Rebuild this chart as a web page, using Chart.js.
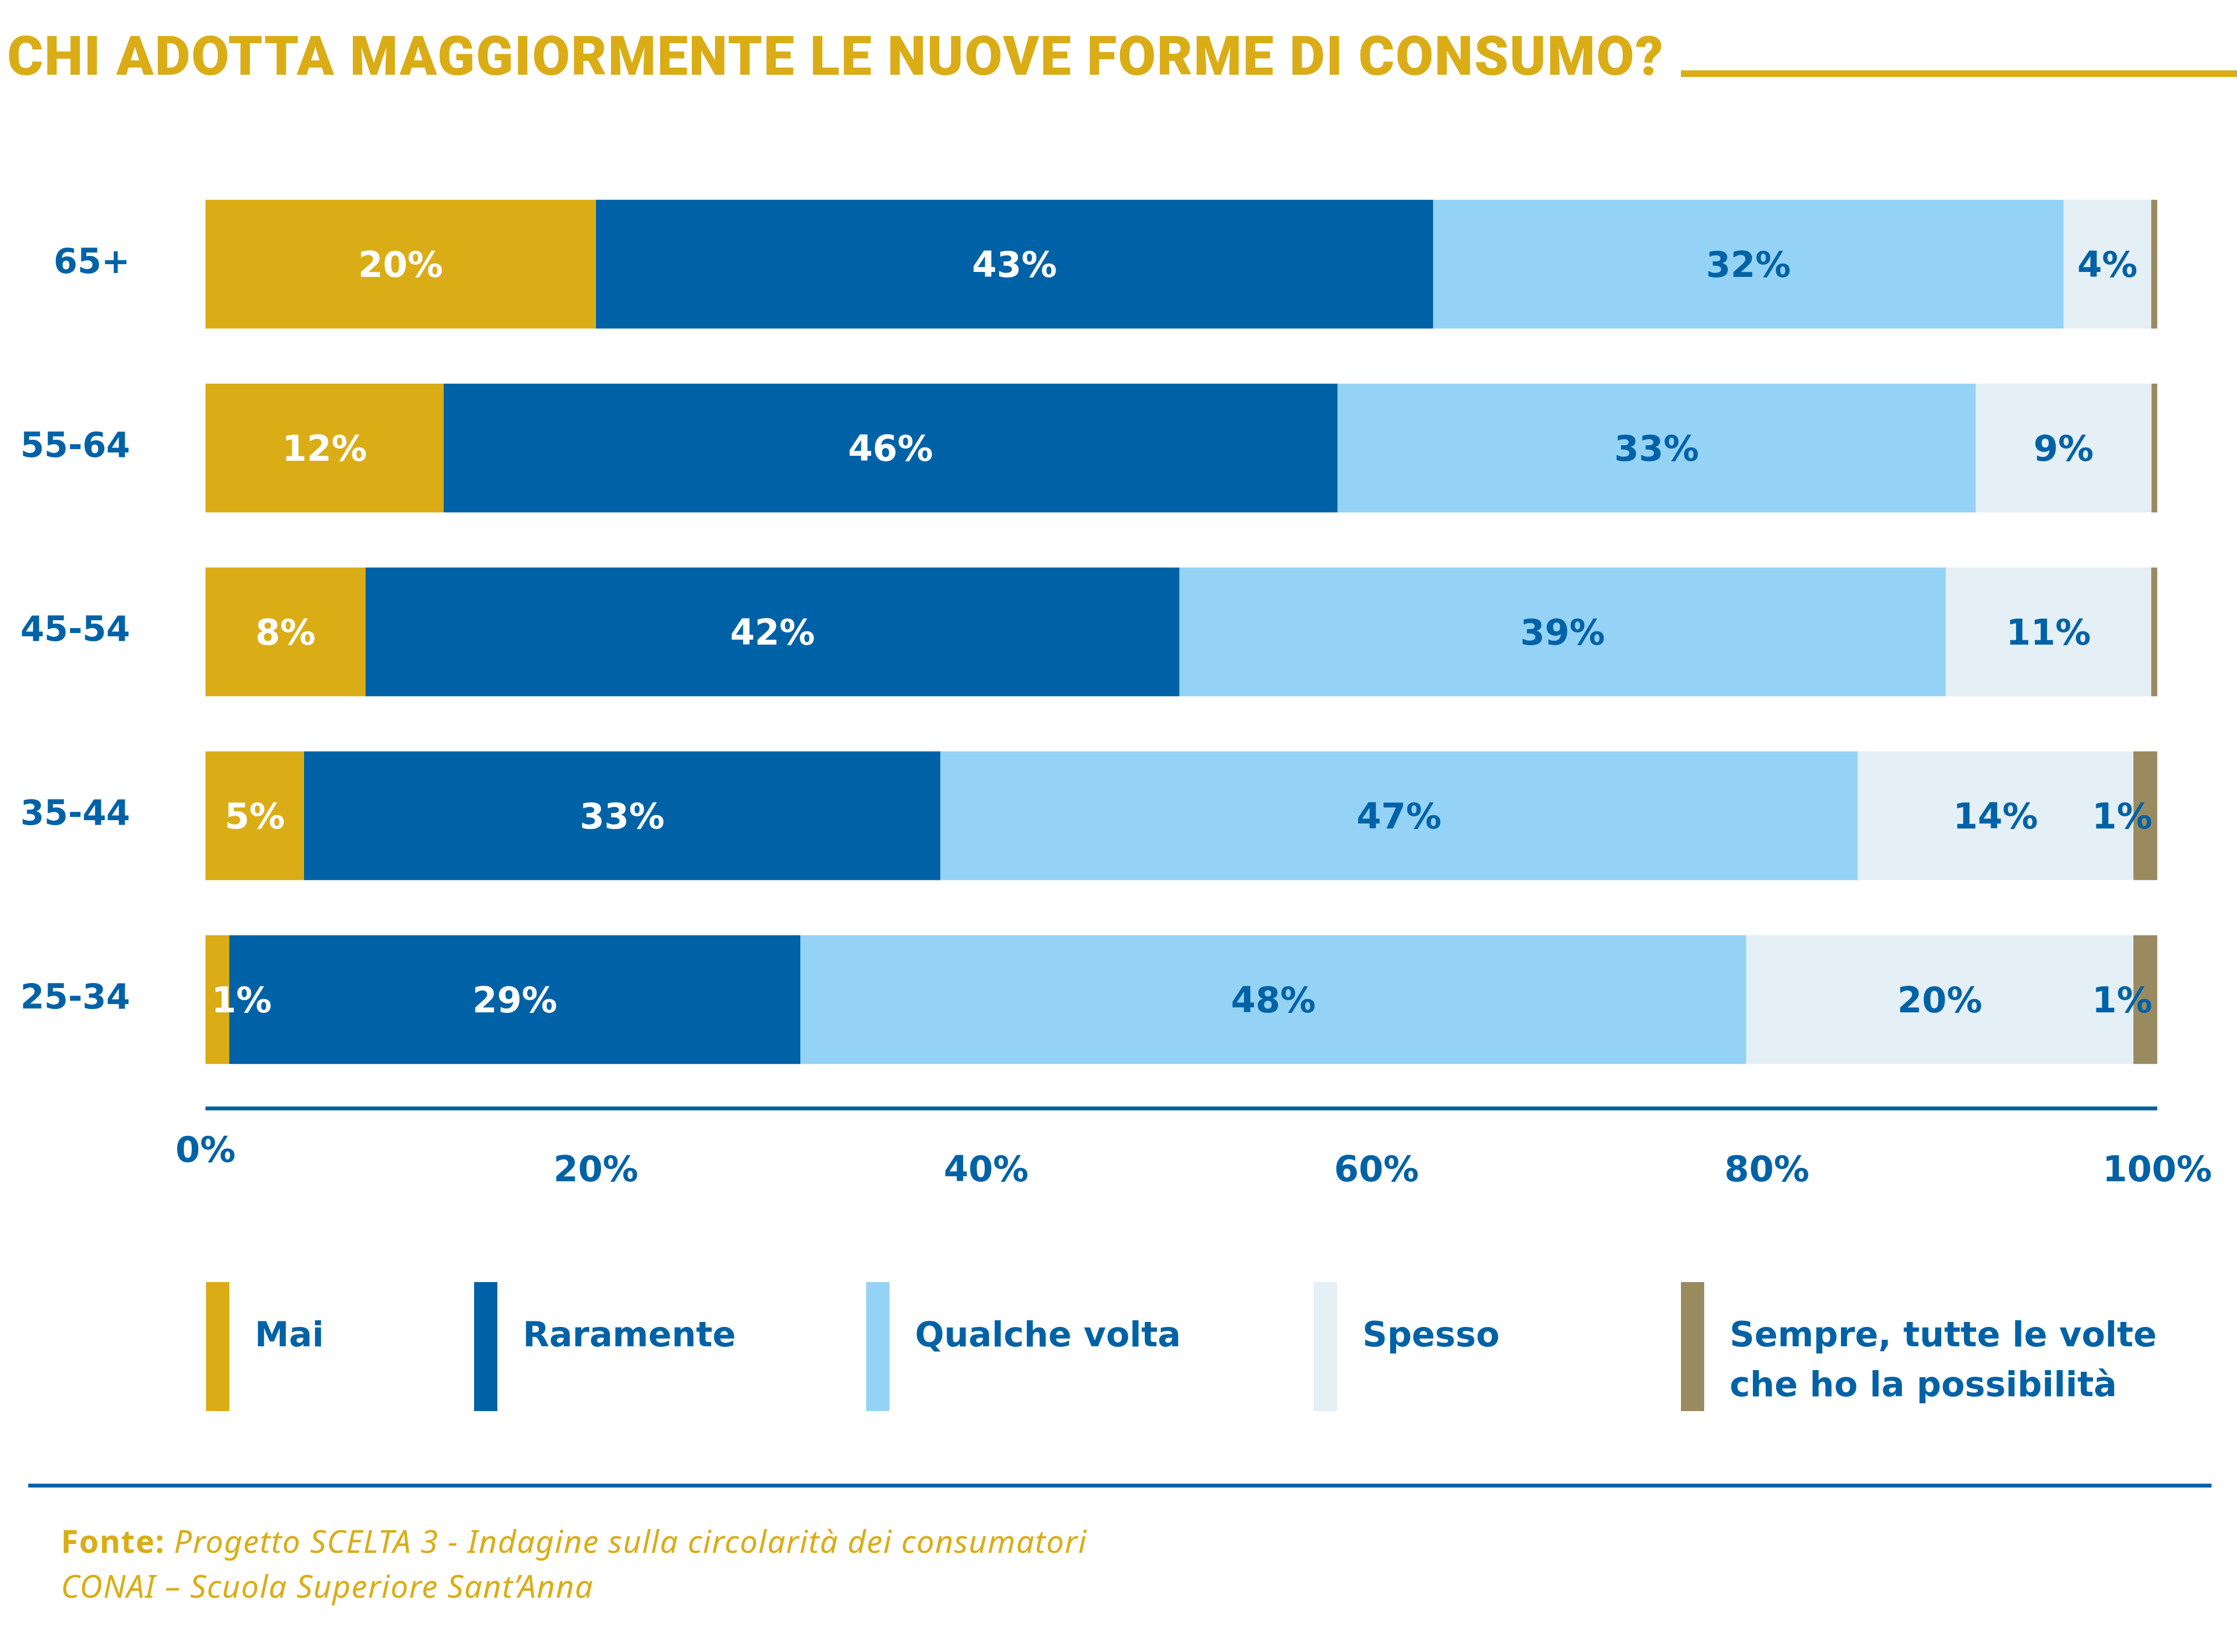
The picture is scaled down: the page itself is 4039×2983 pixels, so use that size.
<!DOCTYPE html>
<html>
<head>
<meta charset="utf-8">
<title>Chi adotta maggiormente le nuove forme di consumo?</title>
<script src="https://cdn.jsdelivr.net/npm/chart.js@4.4.1/dist/chart.umd.min.js"></script>
<style>
    html, body { margin: 0; padding: 0; background: #ffffff; }
    #page { position: relative; width: 4039px; height: 2983px; overflow: hidden; background: #ffffff; }
    #chart { position: absolute; left: 0; top: 0; }
    .title {
        position: absolute; left: 13px; top: 52px;
        font-family: Roboto, sans-serif; font-weight: 900; font-size: 99px; line-height: 99px;
        letter-spacing: 2px; color: #DAAD17; white-space: nowrap;
    }
    .title-rule { position: absolute; left: 3035px; top: 127px; width: 1004px; height: 12px; background: #DAAD17; }
    .legend-swatch { position: absolute; top: 2315px; width: 42px; height: 233px; }
    .legend-text {
        position: absolute; top: 2365px;
        font-family: "DejaVu Sans", sans-serif; font-weight: bold; font-size: 62px; line-height: 90px;
        color: #0062A6; white-space: pre-line;
    }
    .footer-rule { position: absolute; left: 51px; top: 2679px; width: 3942px; height: 7px; background: #0062A6; }
    .footer {
        position: absolute; left: 110px; top: 2742px;
        font-family: "Noto Sans", sans-serif; font-style: italic; font-size: 57px; line-height: 81px;
        letter-spacing: 1.5px; color: #DAAD17; white-space: nowrap;
    }
    .footer b { font-style: normal; font-weight: bold; }
</style>
</head>
<body>
<div id="page">
    <canvas id="chart" width="4039" height="2983"></canvas>
    <div class="title">CHI ADOTTA MAGGIORMENTE LE NUOVE FORME DI CONSUMO?</div>
    <div class="title-rule"></div>
    <div id="legend"></div>
    <div class="footer-rule"></div>
    <div class="footer"><b>Fonte:</b> Progetto SCELTA 3 - Indagine sulla circolarità dei consumatori<br>CONAI – Scuola Superiore Sant’Anna</div>
</div>
<script>
// categories (age groups, top to bottom)
const ageGroups = ['65+', '55-64', '45-54', '35-44', '25-34'];

// series names, as in the legend
const seriesNames = ['Mai', 'Raramente', 'Qualche volta', 'Spesso', 'Sempre, tutte le volte\nche ho la possibilità'];

// shares in %
const mai          = [20.0, 12.2,  8.2,  5.05,  1.22];
const raramente    = [42.9, 45.8, 41.7, 32.6,  29.26];
const qualcheVolta = [32.3, 32.7, 39.26, 47.0, 48.46];
const spesso       = [4.49,  9.0, 10.53, 14.13, 19.84];
const sempre       = [0.31,  0.3,  0.31,  1.22,  1.22];

const xTickLabels = ['0%', '20%', '40%', '60%', '80%', '100%'];

// styles
const blue = '#0062A6';
const seriesColors = ['#DAAD17', '#0062A6', '#94D3F5', '#E4EFF6', '#9A8A60'];
const labelColors = ['#ffffff', '#ffffff', blue, blue, blue];
const legendX = [372, 856, 1564, 2372, 3035];

const seriesValues = [mai, raramente, qualcheVolta, spesso, sempre];

// value labels inside the bar segments
const valueLabels = {
    id: 'valueLabels',
    afterDatasetsDraw(chart) {
        const ctx = chart.ctx;
        const last = chart.data.datasets.length - 1;
        ctx.save();
        ctx.font = 'bold 64px "DejaVu Sans"';
        ctx.textBaseline = 'middle';
        chart.data.datasets.forEach((ds, di) => {
            chart.getDatasetMeta(di).data.forEach((bar, i) => {
                const v = ds.data[i];
                if (v < 0.5) return;
                const text = Math.round(v) + '%';
                const w = ctx.measureText(text).width;
                const { x, base, y } = bar.getProps(['x', 'base', 'y'], true);
                let tx = (x + base) / 2;
                let align = 'center';
                if (w + 20 > x - base) {
                    if (di === 0) { tx = base + 11; align = 'left'; }
                    else if (di === last) { tx = x - 9; align = 'right'; }
                }
                ctx.textAlign = align;
                ctx.fillStyle = labelColors[di];
                ctx.fillText(text, tx, y + 6);
            });
        });
        ctx.restore();
    }
};

// axis line sits a little below the last bar
const axisLine = {
    id: 'axisLine',
    afterDatasetsDraw(chart) {
        const x = chart.scales.x;
        const ctx = chart.ctx;
        ctx.save();
        ctx.fillStyle = blue;
        ctx.fillRect(x.left, chart.chartArea.bottom + 27, x.right - x.left, 7);
        ctx.restore();
    }
};

const chart = new Chart(document.getElementById('chart'), {
    type: 'bar',
    data: {
        labels: ageGroups,
        datasets: seriesValues.map((vals, i) => ({
            label: seriesNames[i],
            data: vals,
            backgroundColor: seriesColors[i],
            borderWidth: 0,
            barPercentage: 0.7,
            categoryPercentage: 1
        }))
    },
    options: {
        indexAxis: 'y',
        responsive: false,
        devicePixelRatio: 1,
        animation: false,
        layout: { padding: { top: 311, right: 144, bottom: 812, left: 0 } },
        plugins: {
            legend: { display: false },
            tooltip: { enabled: false }
        },
        scales: {
            x: {
                stacked: true,
                min: 0,
                max: 100,
                grid: { display: false, drawTicks: false },
                border: { display: false },
                ticks: {
                    stepSize: 20,
                    autoSkip: false,
                    maxRotation: 0,
                    padding: 93,
                    color: blue,
                    font: { family: 'DejaVu Sans', weight: 'bold', size: 64, lineHeight: 0.55 },
                    // first label sits a line higher than the others
                    callback: (v, i) => i === 0 ? xTickLabels[i] : ['', xTickLabels[i]]
                },
                afterFit: s => {
                    s.height = 200;
                    // labels may hang past the ends, the page margins hold them
                    s.paddingLeft = 0;
                    s.paddingRight = 0;
                }
            },
            y: {
                stacked: true,
                grid: { display: false, drawTicks: false },
                border: { display: false },
                ticks: {
                    padding: 136,
                    color: blue,
                    font: { family: 'DejaVu Sans', weight: 'bold', size: 62 }
                },
                afterFit: s => { s.width = 371; }
            }
        }
    },
    plugins: [valueLabels, axisLine]
});

// legend: tall swatches with text beside them
const legend = document.getElementById('legend');
seriesNames.forEach((name, i) => {
    const sw = document.createElement('div');
    sw.className = 'legend-swatch';
    sw.style.left = legendX[i] + 'px';
    sw.style.background = seriesColors[i];
    legend.appendChild(sw);

    const txt = document.createElement('div');
    txt.className = 'legend-text';
    txt.style.left = (legendX[i] + 88) + 'px';
    txt.textContent = name;
    legend.appendChild(txt);
});
</script>
</body>
</html>
